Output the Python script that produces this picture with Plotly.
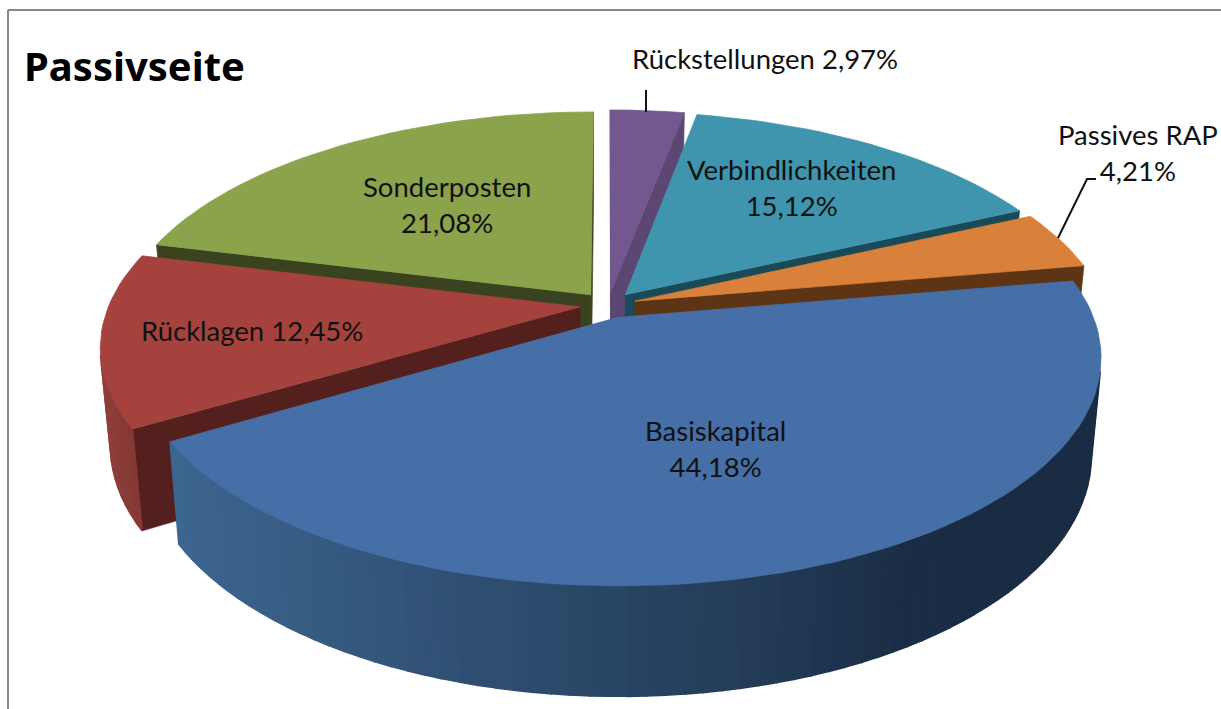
import numpy as np
import plotly.graph_objects as go

categories = ["Rückstellungen", "Verbindlichkeiten", "Passives RAP", "Basiskapital", "Rücklagen", "Sonderposten"]
values = [2.97, 15.12, 4.21, 44.18, 12.45, 21.08]
top_colors = ["#73578f", "#3f95ae", "#d9803a", "#456fa6", "#a6423e", "#8ba34b"]
wall_colors = ["#5c4672", "#1a4a57", "#5d3515", "#2a4464", "#53201e", "#39431f"]
rim_left = ["#5c4672", "#2a6272", "#5d3515", "#3d6690", "#8f403c", "#5f7033"]
rim_right = ["#5c4672", "#2a6272", "#5d3515", "#1a2c43", "#843733", "#5f7033"]
draw_order = [5, 0, 1, 2, 4, 3]
label_xy = [(765, 58), (791, 187), (1138, 152), (715, 448), (252, 330), (447, 204)]
one_line = [True, False, False, False, True, False]

CX, CY, A, B, P, H, S, E = 608, 305, 471, 217.6, 0.172, 95, 0.98, 0.06
GRAD_POS = [0, 0.35, 0.62, 0.8, 1]
GRAD_MID = [0, 0.42, 0.72, 0.98, 1]


def project(px, pz, low=False):
    d = 1 / (1 + P * pz)
    s = S if low else 1
    return CX + s * A * px * d, CY - s * B * pz * d + (H * d if low else 0)


def hexrgb(c):
    return np.array([int(c[i:i + 2], 16) for i in (1, 3, 5)], float)


def mix(c1, c2, t):
    v = hexrgb(c1) * (1 - t) + hexrgb(c2) * t
    return "rgb(%d,%d,%d)" % tuple(v)


fig = go.Figure()


def poly(xs, ys, col, lw=0.7):
    fig.add_trace(go.Scatter(x=list(xs) + [xs[0]], y=list(ys) + [ys[0]], mode="lines", fill="toself",
                             fillcolor=col, line=dict(color=col, width=lw), hoverinfo="skip", showlegend=False))


def area(xs, ys):
    return 0.5 * sum(xs[i] * ys[(i + 1) % len(xs)] - xs[(i + 1) % len(xs)] * ys[i] for i in range(len(xs)))


def quad(p, q, col, lw=0.7):
    xs = [project(*p)[0], project(*q)[0], project(*q, True)[0], project(*p, True)[0]]
    ys = [project(*p)[1], project(*q)[1], project(*q, True)[1], project(*p, True)[1]]
    if area(xs, ys) < 0:
        poly(xs, ys, col, lw)


total = sum(values)
edges = np.concatenate([[0], np.cumsum(values)]) / total * 2 * np.pi

for i in draw_order:
    t0, t1 = edges[i], edges[i + 1]
    mid = (t0 + t1) / 2
    ox, oz = E * np.sin(mid), E * np.cos(mid)
    th = np.linspace(t0, t1, max(4, int((t1 - t0) * 30)))
    rx, rz = ox + np.sin(th), oz + np.cos(th)
    apex = (ox, oz)
    # cut faces
    quad(apex, (rx[0], rz[0]), wall_colors[i])
    quad((rx[-1], rz[-1]), apex, wall_colors[i])
    # outer rim, shaded from left to right
    px = np.array([project(a, b)[0] for a, b in zip(rx, rz)])
    for k in range(len(th) - 1):
        f = (0.5 * (px[k] + px[k + 1]) - px.min()) / (px.max() - px.min())
        col = mix(rim_left[i], rim_right[i], float(np.interp(f, GRAD_POS, GRAD_MID)))
        quad((rx[k], rz[k]), (rx[k + 1], rz[k + 1]), col, 1.6)
    # top
    tx = [project(*apex)[0]] + [project(a, b)[0] for a, b in zip(rx, rz)]
    ty = [project(*apex)[1]] + [project(a, b)[1] for a, b in zip(rx, rz)]
    poly(tx, ty, top_colors[i])

annotations = [dict(x=134, y=65, text="<b>Passivseite</b>", showarrow=False, xref="x", yref="y",
                    font=dict(family="Noto Sans", size=40, color="#000000"))]
for c, v, (lx, ly), single in zip(categories, values, label_xy, one_line):
    pct = f"{v:.2f}".replace(".", ",") + "%"
    annotations.append(dict(x=lx, y=ly, text=f"{c} {pct}" if single else f"{c}<br>{pct}", showarrow=False,
                            xref="x", yref="y", align="center",
                            font=dict(family="Lato", size=27.5, color="#111111")))

shapes = [
    dict(type="line", x0=8, y0=10, x1=1221, y1=10, line=dict(color="#868686", width=2), layer="below"),
    dict(type="line", x0=8, y0=10, x1=8, y1=709, line=dict(color="#868686", width=2), layer="below"),
    dict(type="line", x0=646, y0=90, x1=646, y1=112, line=dict(color="#111111", width=2)),
    dict(type="path", path="M1096,179 L1087,179 L1058,238", line=dict(color="#111111", width=2)),
]

fig.update_layout(width=1221, height=709, margin=dict(l=0, r=0, t=0, b=0), paper_bgcolor="white", plot_bgcolor="white",
                  xaxis=dict(range=[0, 1221], visible=False, fixedrange=True),
                  yaxis=dict(range=[709, 0], visible=False, fixedrange=True),
                  showlegend=False, annotations=annotations, shapes=shapes)
fig.write_html("out.html", config=dict(displayModeBar=False),
               post_script="document.body.style.margin='0';document.documentElement.style.overflow='hidden';")
